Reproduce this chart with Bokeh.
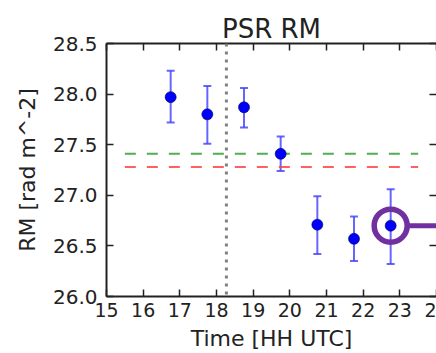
from bokeh.plotting import figure
from bokeh.models import (Whisker, TeeHead, Span, LinearAxis, FixedTicker,
                          PrintfTickFormatter, Range1d, ColumnDataSource)
from bokeh.embed import file_html
from bokeh.resources import INLINE

# --- data ---
time_hh = [16.75, 17.75, 18.75, 19.75, 20.75, 21.75, 22.75]
rm_vals = [27.97, 27.80, 27.87, 27.41, 26.71, 26.57, 26.70]
rm_upper = [28.23, 28.08, 28.06, 27.58, 26.99, 26.79, 27.06]
rm_lower = [27.72, 27.51, 27.67, 27.24, 26.42, 26.35, 26.32]

green_level = 27.41
red_level = 27.28
level_span = [15.5, 23.5]
vline_time = 18.27
highlight_index = 6

x_ticks = [15, 16, 17, 18, 19, 20, 21, 22, 23, 24]
# the last tick label is cut by the picture's right edge: only "2" shows
x_tick_labels = {24: "2"}
y_ticks = [26.0, 26.5, 27.0, 27.5, 28.0, 28.5]

FONT = "DejaVu Sans"
TXT = "#222222"
AX = "#222222"

p = figure(width=436, height=353, output_backend="svg", toolbar_location=None,
           x_range=Range1d(15, 24), y_range=Range1d(26.0, 28.5),
           min_border_left=106, min_border_right=0, min_border_top=43,
           min_border_bottom=51, title="PSR RM")
p.outline_line_color = None
p.xgrid.visible = False
p.ygrid.visible = False
p.background_fill_color = "white"
p.border_fill_color = "white"

p.title.text_font = FONT
p.title.text_font_size = "26px"
p.title.text_font_style = "normal"
p.title.text_color = TXT
p.title.align = "center"
p.title.standoff = 0

def style_axis(ax):
    ax.axis_line_color = AX
    ax.axis_line_width = 2
    ax.major_tick_line_color = AX
    ax.major_tick_line_width = 1.5
    ax.major_tick_in = 7
    ax.major_tick_out = 0
    ax.minor_tick_line_color = None
    ax.major_label_text_font = FONT
    ax.major_label_text_color = TXT

xa = p.xaxis[0]
xa.ticker = FixedTicker(ticks=x_ticks)
xa.major_label_overrides = x_tick_labels
style_axis(xa)
xa.major_label_text_font_size = "19px"
xa.major_label_standoff = 6
xa.axis_label = "Time [HH UTC]"
xa.axis_label_text_font = FONT
xa.axis_label_text_font_size = "22px"
xa.axis_label_text_font_style = "normal"
xa.axis_label_text_color = TXT
xa.axis_label_standoff = 6

ya = p.yaxis[0]
ya.ticker = FixedTicker(ticks=y_ticks)
ya.formatter = PrintfTickFormatter(format="%.1f")
style_axis(ya)
ya.major_label_text_font_size = "20px"
ya.major_label_standoff = 9
ya.axis_label = "RM [rad m^-2]"
ya.axis_label_text_font = FONT
ya.axis_label_text_font_size = "22px"
ya.axis_label_text_font_style = "normal"
ya.axis_label_text_color = TXT
ya.axis_label_standoff = 10

top = LinearAxis(ticker=FixedTicker(ticks=x_ticks))
style_axis(top)
top.major_label_overrides = {t: "" for t in x_ticks}
top.major_label_standoff = 0
p.add_layout(top, "above")

right = LinearAxis(ticker=FixedTicker(ticks=y_ticks))
style_axis(right)
right.axis_line_color = None
right.major_label_overrides = {t: "" for t in y_ticks}
right.major_label_standoff = 0
p.add_layout(right, "right")

# reference levels
p.line(level_span, [green_level, green_level], line_color="#33a033",
       line_alpha=0.85, line_width=2, line_dash="11 11")
p.line(level_span, [red_level, red_level], line_color="#ff4444",
       line_alpha=0.85, line_width=2, line_dash="11 11")

p.add_layout(Span(location=vline_time, dimension="height", line_color="#808080",
                  line_width=3, line_dash="3 5"))

src = ColumnDataSource(dict(x=time_hh, y=rm_vals, up=rm_upper, lo=rm_lower))
ecol = "#4040ff"
p.add_layout(Whisker(source=src, base="x", upper="up", lower="lo",
                     line_color=ecol, line_width=2, line_alpha=0.8,
                     upper_head=TeeHead(size=8, line_color=ecol, line_width=2, line_alpha=0.8),
                     lower_head=TeeHead(size=8, line_color=ecol, line_width=2, line_alpha=0.8)))

p.scatter("x", "y", source=src, size=11, fill_color="#0000ff",
          line_color="#000044", line_width=0.6)

hx = time_hh[highlight_index]
hy = rm_vals[highlight_index]
p.scatter([hx], [hy], size=33, fill_color=None, line_color="#7030a0", line_width=5.5)
p.segment(x0=[hx + 0.5], y0=[hy], x1=[hx + 2.0], y1=[hy],
          line_color="#7030a0", line_width=5)

open("out.html", "w").write(file_html(p, INLINE))
